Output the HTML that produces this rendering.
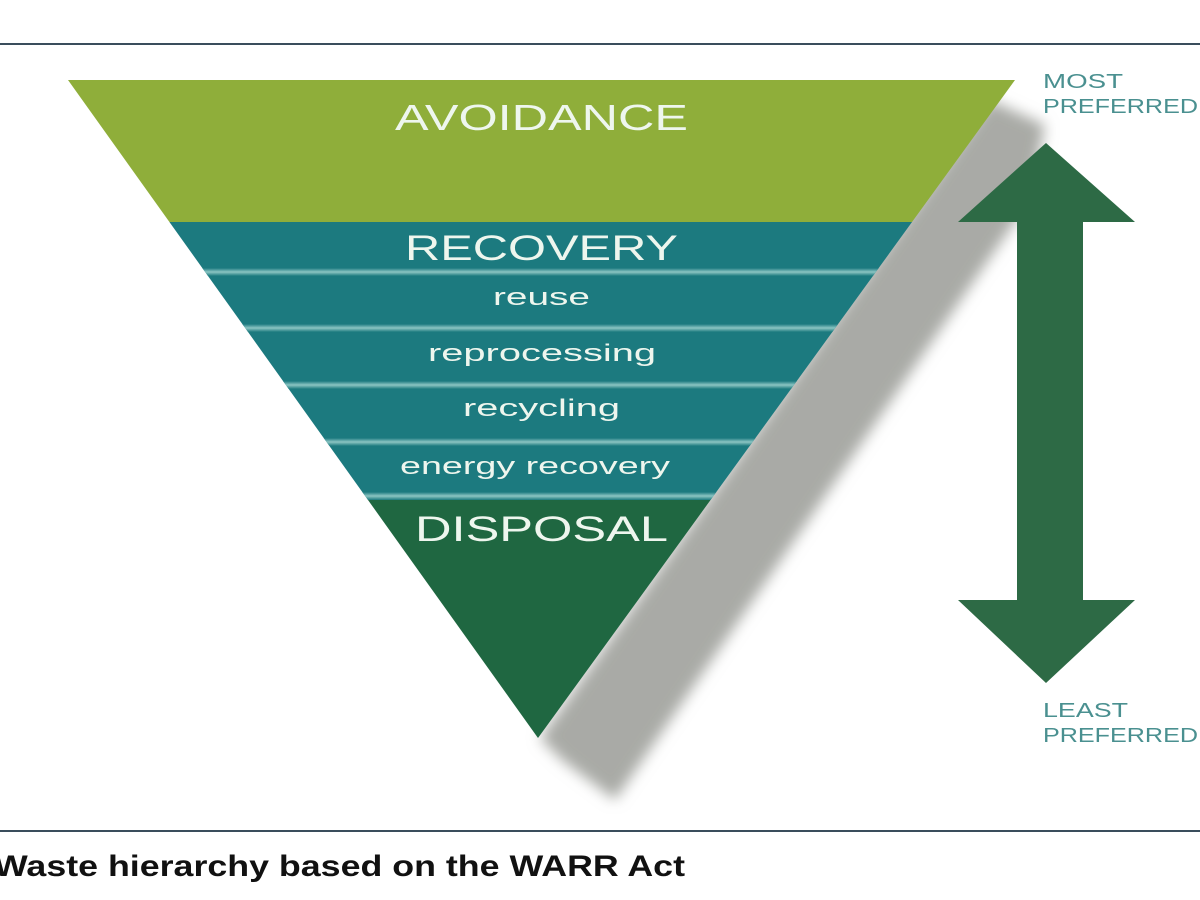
<!DOCTYPE html>
<html><head><meta charset="utf-8"><style>
body{margin:0;width:1200px;height:900px;background:#fff;overflow:hidden}
svg{display:block}
</style></head><body>
<svg width="1200" height="900" viewBox="0 0 1200 900" font-family="Liberation Sans, sans-serif">
<defs>
<filter id="b" x="-20%" y="-20%" width="140%" height="140%"><feGaussianBlur stdDeviation="7"/></filter>
<clipPath id="tri"><polygon points="68,80 1015,80 538,738"/></clipPath>
<linearGradient id="sep" x1="0" y1="0" x2="0" y2="1">
<stop offset="0" stop-color="#1c7a7f"/><stop offset="0.5" stop-color="#8cc5c3"/><stop offset="1" stop-color="#1c7a7f"/></linearGradient>
</defs>
<line x1="0" y1="44" x2="1200" y2="44" stroke="#3a4e5c" stroke-width="2"/>
<line x1="0" y1="831" x2="1200" y2="831" stroke="#3a4e5c" stroke-width="2"/>
<polygon points="990,100 1045,125 1030,200 615,800 562,760 540,738" fill="#a9aaa6" filter="url(#b)"/>
<g clip-path="url(#tri)">
<rect x="0" y="80" width="1200" height="142" fill="#8fae3a"/>
<rect x="0" y="222" width="1200" height="278" fill="#1c7a7f"/>
<rect x="0" y="268" width="1200" height="8" fill="url(#sep)"/>
<rect x="0" y="324" width="1200" height="8" fill="url(#sep)"/>
<rect x="0" y="381" width="1200" height="8" fill="url(#sep)"/>
<rect x="0" y="438" width="1200" height="8" fill="url(#sep)"/>
<rect x="0" y="492" width="1200" height="8" fill="url(#sep)"/>
<rect x="0" y="500" width="1200" height="240" fill="#1f6741"/>
</g>
<g fill="#eef6ee">
<text x="395" y="130" font-size="36" textLength="293" lengthAdjust="spacingAndGlyphs">AVOIDANCE</text>
<text x="405" y="260" font-size="35" textLength="273" lengthAdjust="spacingAndGlyphs">RECOVERY</text>
<text x="493" y="305" font-size="24" textLength="97" lengthAdjust="spacingAndGlyphs">reuse</text>
<text x="428" y="361" font-size="24" textLength="228" lengthAdjust="spacingAndGlyphs">reprocessing</text>
<text x="463" y="416" font-size="24" textLength="157" lengthAdjust="spacingAndGlyphs">recycling</text>
<text x="400" y="474" font-size="24" textLength="270" lengthAdjust="spacingAndGlyphs">energy recovery</text>
<text x="415" y="541" font-size="35" textLength="253" lengthAdjust="spacingAndGlyphs">DISPOSAL</text>
</g>
<polygon points="1046,143 1135,222 1083,222 1083,600 1135,600 1046,683 958,600 1017,600 1017,222 958,222" fill="#2d6a45"/>
<g fill="#4a9090" font-size="20">
<text x="1043" y="88" textLength="80" lengthAdjust="spacingAndGlyphs">MOST</text>
<text x="1043" y="113" textLength="155" lengthAdjust="spacingAndGlyphs">PREFERRED</text>
<text x="1043" y="717" textLength="85" lengthAdjust="spacingAndGlyphs">LEAST</text>
<text x="1043" y="742" textLength="155" lengthAdjust="spacingAndGlyphs">PREFERRED</text>
</g>
<text x="-6" y="876" font-size="30" font-weight="bold" fill="#111" textLength="691" lengthAdjust="spacingAndGlyphs">Waste hierarchy based on the WARR Act</text>
</svg>
</body></html>
